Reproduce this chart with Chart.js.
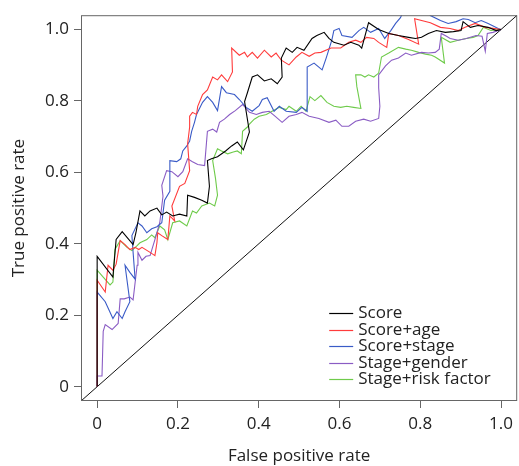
<!DOCTYPE html>
<html>
<head>
<meta charset="utf-8">
<script src="https://cdn.jsdelivr.net/npm/chart.js@4"></script>
<style>
  html, body { margin: 0; padding: 0; background: #fff; }
  #roc { display: block; }
</style>
</head>
<body>
<canvas id="roc" width="519" height="466"></canvas>
<script>
// ROC curves, points as [false positive rate, true positive rate]
const seriesNames = ['Score', 'Score+age', 'Score+stage', 'Stage+gender', 'Stage+risk factor'];
const seriesColors = ['#000000', '#ff3b3b', '#3a5bc7', '#8a5cc4', '#6fcb4b'];

const score = [[0,0],[0,0.365],[0.039,0.307],[0.047,0.412],[0.062,0.434],[0.089,0.398],[0.096,0.431],[0.106,0.492],[0.118,0.478],[0.131,0.492],[0.148,0.5],[0.160,0.481],[0.172,0.489],[0.187,0.478],[0.204,0.483],[0.222,0.478],[0.224,0.536],[0.241,0.530],[0.259,0.522],[0.273,0.514],[0.278,0.561],[0.273,0.633],[0.283,0.638],[0.298,0.644],[0.318,0.660],[0.333,0.674],[0.347,0.685],[0.362,0.663],[0.377,0.713],[0.365,0.798],[0.372,0.823],[0.384,0.867],[0.397,0.873],[0.414,0.856],[0.431,0.862],[0.446,0.848],[0.458,0.867],[0.456,0.920],[0.468,0.948],[0.483,0.936],[0.495,0.950],[0.512,0.942],[0.532,0.975],[0.544,0.983],[0.562,0.992],[0.574,0.975],[0.586,0.964],[0.611,0.956],[0.628,0.964],[0.648,0.956],[0.655,0.948],[0.672,1.019],[0.697,1.0],[0.722,0.989],[0.746,0.983],[0.771,0.978],[0.788,0.975],[0.803,0.978],[0.820,0.989],[0.840,0.997],[0.862,0.992],[0.882,0.994],[0.901,0.997],[0.906,1.022],[0.924,1.006],[0.943,1.011],[0.968,1.006],[0.988,0.997],[1,1]];

const scoreAge = [[0,0],[0,0.298],[0.020,0.265],[0.027,0.340],[0.039,0.326],[0.047,0.343],[0.057,0.409],[0.069,0.398],[0.081,0.384],[0.094,0.390],[0.103,0.384],[0.111,0.390],[0.131,0.376],[0.143,0.367],[0.148,0.403],[0.150,0.431],[0.160,0.423],[0.175,0.412],[0.180,0.478],[0.192,0.464],[0.185,0.506],[0.204,0.561],[0.217,0.569],[0.229,0.605],[0.224,0.680],[0.229,0.727],[0.229,0.757],[0.236,0.768],[0.246,0.762],[0.249,0.785],[0.261,0.818],[0.273,0.831],[0.286,0.867],[0.298,0.859],[0.308,0.873],[0.323,0.854],[0.335,0.881],[0.333,0.948],[0.352,0.928],[0.365,0.936],[0.372,0.923],[0.384,0.936],[0.397,0.920],[0.414,0.942],[0.431,0.923],[0.443,0.934],[0.456,0.914],[0.475,0.901],[0.493,0.923],[0.507,0.936],[0.525,0.925],[0.539,0.934],[0.554,0.936],[0.579,0.948],[0.603,0.948],[0.623,0.964],[0.640,0.970],[0.653,0.964],[0.667,0.978],[0.685,0.975],[0.697,0.964],[0.717,0.950],[0.722,0.989],[0.746,0.983],[0.771,0.972],[0.796,0.959],[0.786,1.030],[0.825,1.019],[0.850,1.006],[0.874,1.003],[0.894,0.997],[0.911,1.006],[0.936,1.017],[0.961,1.006],[0.980,1.003],[1,1]];

const scoreStage = [[0,0],[0,0.265],[0.020,0.238],[0.039,0.191],[0.049,0.210],[0.062,0.191],[0.069,0.210],[0.081,0.238],[0.069,0.340],[0.081,0.320],[0.094,0.301],[0.089,0.376],[0.086,0.423],[0.101,0.459],[0.111,0.450],[0.123,0.431],[0.135,0.442],[0.148,0.448],[0.160,0.459],[0.163,0.486],[0.167,0.522],[0.180,0.547],[0.180,0.633],[0.197,0.630],[0.207,0.638],[0.212,0.660],[0.222,0.674],[0.229,0.688],[0.234,0.715],[0.241,0.740],[0.246,0.762],[0.261,0.796],[0.273,0.812],[0.286,0.796],[0.298,0.773],[0.308,0.840],[0.320,0.823],[0.340,0.818],[0.352,0.804],[0.369,0.782],[0.384,0.771],[0.401,0.787],[0.409,0.804],[0.421,0.809],[0.438,0.771],[0.451,0.785],[0.468,0.771],[0.493,0.768],[0.507,0.782],[0.520,0.771],[0.520,0.895],[0.537,0.906],[0.557,0.887],[0.567,0.920],[0.581,0.970],[0.586,0.997],[0.599,1.003],[0.606,0.983],[0.631,0.978],[0.648,0.997],[0.660,1.006],[0.677,0.992],[0.697,1.003],[0.712,0.975],[0.727,0.997],[0.739,1.017],[0.751,1.033],[0.766,1.072],[0.796,1.083],[0.815,1.072],[0.825,1.039],[0.850,1.025],[0.869,1.017],[0.889,1.022],[0.906,1.030],[0.919,1.028],[0.936,1.019],[0.951,1.025],[0.968,1.017],[0.993,1.003],[1,1]];

const stageGender = [[0,0],[0,0.030],[0.012,0.030],[0.015,0.155],[0.020,0.174],[0.037,0.160],[0.052,0.177],[0.057,0.246],[0.067,0.246],[0.081,0.251],[0.089,0.243],[0.099,0.340],[0.101,0.376],[0.111,0.354],[0.121,0.365],[0.131,0.367],[0.143,0.412],[0.155,0.459],[0.163,0.533],[0.160,0.564],[0.172,0.605],[0.185,0.602],[0.200,0.588],[0.212,0.602],[0.224,0.638],[0.236,0.630],[0.249,0.622],[0.266,0.619],[0.273,0.715],[0.286,0.721],[0.296,0.713],[0.303,0.740],[0.315,0.749],[0.328,0.762],[0.342,0.773],[0.360,0.790],[0.377,0.768],[0.394,0.762],[0.409,0.768],[0.426,0.771],[0.441,0.757],[0.458,0.740],[0.475,0.757],[0.493,0.762],[0.507,0.768],[0.525,0.757],[0.549,0.751],[0.574,0.740],[0.591,0.746],[0.606,0.729],[0.623,0.729],[0.640,0.743],[0.660,0.749],[0.677,0.743],[0.697,0.751],[0.700,0.785],[0.697,0.837],[0.697,0.873],[0.714,0.898],[0.729,0.914],[0.746,0.920],[0.764,0.934],[0.778,0.928],[0.803,0.936],[0.820,0.934],[0.837,0.936],[0.847,0.945],[0.852,0.989],[0.865,0.981],[0.874,0.975],[0.894,0.970],[0.914,0.975],[0.938,0.983],[0.953,0.981],[0.961,0.939],[0.966,0.989],[0.980,0.992],[1,1]];

const stageRisk = [[0,0],[0,0.326],[0.015,0.307],[0.032,0.285],[0.039,0.293],[0.044,0.384],[0.057,0.409],[0.074,0.390],[0.086,0.381],[0.099,0.395],[0.106,0.403],[0.123,0.412],[0.135,0.425],[0.143,0.417],[0.155,0.450],[0.167,0.439],[0.175,0.412],[0.187,0.459],[0.204,0.464],[0.222,0.450],[0.236,0.492],[0.246,0.486],[0.259,0.506],[0.278,0.514],[0.291,0.506],[0.298,0.536],[0.293,0.583],[0.286,0.633],[0.298,0.666],[0.308,0.660],[0.323,0.652],[0.337,0.657],[0.347,0.660],[0.357,0.652],[0.360,0.715],[0.372,0.727],[0.377,0.735],[0.389,0.749],[0.401,0.757],[0.419,0.762],[0.433,0.771],[0.451,0.782],[0.468,0.776],[0.475,0.785],[0.493,0.771],[0.505,0.785],[0.517,0.771],[0.527,0.812],[0.539,0.801],[0.554,0.815],[0.569,0.796],[0.586,0.785],[0.603,0.782],[0.618,0.785],[0.635,0.782],[0.653,0.779],[0.643,0.840],[0.640,0.873],[0.653,0.873],[0.663,0.867],[0.672,0.873],[0.685,0.867],[0.697,0.878],[0.704,0.923],[0.722,0.934],[0.746,0.950],[0.764,0.945],[0.778,0.942],[0.796,0.936],[0.813,0.931],[0.828,0.928],[0.837,0.923],[0.860,0.906],[0.852,0.978],[0.874,0.964],[0.894,0.970],[0.914,0.975],[0.931,0.978],[0.943,0.983],[0.956,1.006],[0.975,0.997],[1,1]];

const diagonal = [[-0.04,-0.04],[1.04,1.04]];

const axisTicks = [0, 0.2, 0.4, 0.6, 0.8, 1.0];
const axisTickLabels = ['0', '0.2', '0.4', '0.6', '0.8', '1.0'];
const axisMin = -0.04, axisMax = 1.04;

const FONT = '"Open Sans", "Noto Sans", sans-serif';
const FSIZE = 17;
const curves = [score, scoreAge, scoreStage, stageGender, stageRisk];

const datasets = curves.map((pts, i) => ({
    label: seriesNames[i],
    data: pts.map(p => ({ x: p[0], y: p[1] })),
    borderColor: seriesColors[i],
    borderWidth: 1.1,
    pointRadius: 0,
    showLine: true,
    tension: 0
}));
datasets.push({
    label: 'diagonal',
    data: diagonal.map(p => ({ x: p[0], y: p[1] })),
    borderColor: '#111',
    borderWidth: 1,
    pointRadius: 0,
    showLine: true
});

// box around the plot + legend in the lower right corner
const boxAndLegend = {
    id: 'boxAndLegend',
    afterDatasetsDraw(chart) {
        const { ctx, chartArea: a } = chart;
        ctx.save();
        ctx.strokeStyle = '#666';
        ctx.lineWidth = 1;
        ctx.strokeRect(a.left + 0.5, a.top + 0.5, a.right - a.left - 1, a.bottom - a.top - 1);

        const x0 = a.right - 188, y0 = a.bottom - 88, rowH = 16.5;
        ctx.font = FSIZE + 'px ' + FONT;
        ctx.textBaseline = 'middle';
        ctx.textAlign = 'left';
        seriesNames.forEach((name, i) => {
            const y = Math.round(y0 + i * rowH) + 0.5;
            ctx.strokeStyle = seriesColors[i];
            ctx.lineWidth = 1.2;
            ctx.beginPath();
            ctx.moveTo(x0, y);
            ctx.lineTo(x0 + 24, y);
            ctx.stroke();
            ctx.fillStyle = '#222';
            ctx.fillText(name, x0 + 29, y);
        });
        ctx.restore();
    }
};

const axisCommon = {
    type: 'linear',
    min: axisMin,
    max: axisMax,
    afterBuildTicks: s => { s.ticks = axisTicks.map(v => ({ value: v })); },
    ticks: {
        color: '#222',
        font: { family: FONT, size: FSIZE },
        padding: 5,
        autoSkip: false,
        maxRotation: 0,
        callback: (v) => axisTickLabels[axisTicks.indexOf(v)] ?? ''
    },
    grid: { drawOnChartArea: false, drawTicks: true, tickLength: 7, color: '#666' },
    border: { display: false }
};

new Chart(document.getElementById('roc'), {
    type: 'scatter',
    data: { datasets },
    options: {
        responsive: false,
        animation: false,
        devicePixelRatio: 1,
        layout: { padding: { top: 9, right: 0, left: 0, bottom: 0 } },
        plugins: {
            legend: { display: false },
            tooltip: { enabled: false }
        },
        scales: {
            x: {
                ...axisCommon,
                ticks: { ...axisCommon.ticks, padding: 6 },
                afterFit: s => { s.height = 65; },
                title: {
                    display: true, text: 'False positive rate', color: '#222',
                    font: { family: FONT, size: FSIZE }, padding: { top: 0, bottom: 0 }
                }
            },
            y: {
                ...axisCommon,
                afterFit: s => { s.width = 81; },
                title: {
                    display: true, text: 'True positive rate', color: '#222',
                    font: { family: FONT, size: FSIZE }, padding: { top: 9, bottom: 0 }
                }
            }
        }
    },
    plugins: [boxAndLegend]
});
</script>
</body>
</html>
